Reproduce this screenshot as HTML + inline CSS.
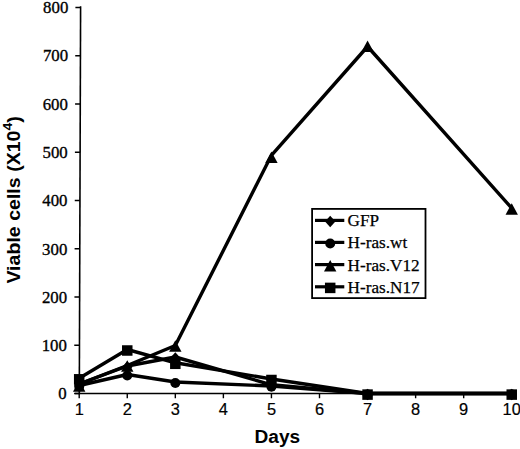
<!DOCTYPE html>
<html><head><meta charset="utf-8"><style>
html,body{margin:0;padding:0;background:#fff;}
svg{display:block;}
.yl{font-family:"Liberation Serif",serif;font-size:17.7px;stroke:#000;stroke-width:0.35px;}
.lg{font-family:"Liberation Serif",serif;font-size:17.2px;stroke:#000;stroke-width:0.25px;}
.xl{font-family:"Liberation Sans",sans-serif;font-size:16.4px;stroke:#000;stroke-width:0.2px;}
.tt{font-family:"Liberation Sans",sans-serif;font-size:18px;font-weight:bold;}
</style></head><body>
<svg width="520" height="449" viewBox="0 0 520 449">
<path d="M80.6 6.2L79.3 394.3" stroke="#000" stroke-width="1.6" fill="none"/>
<path d="M75 393.5H512.24" stroke="#000" stroke-width="1.6" fill="none"/>
<path d="M74.10 393.50H79.30 M74.26 345.25H79.46 M74.42 297.00H79.62 M74.59 248.75H79.79 M74.75 200.50H79.95 M74.91 152.25H80.11 M75.07 104.00H80.27 M75.23 55.75H80.43 M75.40 7.50H80.60 " stroke="#000" stroke-width="1.6" fill="none"/>
<path d="M79.20 393.5V398.3 M127.26 393.5V398.3 M175.32 393.5V398.3 M223.38 393.5V398.3 M271.44 393.5V398.3 M319.50 393.5V398.3 M367.56 393.5V398.3 M415.62 393.5V398.3 M463.68 393.5V398.3 M511.74 393.5V398.3 " stroke="#000" stroke-width="1.4" fill="none"/>
<text transform="translate(66.70 399.40) scale(0.95 1.0)" text-anchor="end" class="yl">0</text>
<text transform="translate(66.90 351.10) scale(0.95 1.0)" text-anchor="end" class="yl">100</text>
<text transform="translate(67.10 302.80) scale(0.95 1.0)" text-anchor="end" class="yl">200</text>
<text transform="translate(67.30 254.50) scale(0.95 1.0)" text-anchor="end" class="yl">300</text>
<text transform="translate(67.50 206.20) scale(0.95 1.0)" text-anchor="end" class="yl">400</text>
<text transform="translate(67.70 157.90) scale(0.95 1.0)" text-anchor="end" class="yl">500</text>
<text transform="translate(67.90 109.60) scale(0.95 1.0)" text-anchor="end" class="yl">600</text>
<text transform="translate(68.10 61.30) scale(0.95 1.0)" text-anchor="end" class="yl">700</text>
<text transform="translate(68.30 13.00) scale(0.95 1.0)" text-anchor="end" class="yl">800</text>
<text x="79.20" y="414.7" text-anchor="middle" class="xl">1</text>
<text x="127.26" y="414.7" text-anchor="middle" class="xl">2</text>
<text x="175.32" y="414.7" text-anchor="middle" class="xl">3</text>
<text x="223.38" y="414.7" text-anchor="middle" class="xl">4</text>
<text x="271.44" y="414.7" text-anchor="middle" class="xl">5</text>
<text x="319.50" y="414.7" text-anchor="middle" class="xl">6</text>
<text x="367.56" y="414.7" text-anchor="middle" class="xl">7</text>
<text x="415.62" y="414.7" text-anchor="middle" class="xl">8</text>
<text x="463.68" y="414.7" text-anchor="middle" class="xl">9</text>
<text x="511.74" y="414.7" text-anchor="middle" class="xl">10</text>
<text x="254.5" y="442.7" textLength="45.6" lengthAdjust="spacingAndGlyphs" class="tt">Days</text>
<text id="yt" transform="translate(19.8 283.6) rotate(-90)" class="tt" textLength="167.5" lengthAdjust="spacingAndGlyphs">Viable cells (X10<tspan dy="-8.2" font-size="13px">4</tspan><tspan dy="8.2">)</tspan></text>
<polyline points="79.20,385.50 127.26,374.50 175.32,382.00 271.44,386.00 367.56,393.50 511.74,393.50" fill="none" stroke="#000" stroke-width="3.4" stroke-linejoin="round"/>
<polyline points="79.20,384.00 127.26,366.00 175.32,357.00 271.44,384.80 367.56,393.50 511.74,393.50" fill="none" stroke="#000" stroke-width="3.4" stroke-linejoin="round"/>
<polyline points="79.20,384.00 127.26,365.50 175.32,345.50 271.44,155.30 367.56,46.50 511.74,208.20" fill="none" stroke="#000" stroke-width="3.4" stroke-linejoin="round"/>
<polyline points="79.20,378.30 127.26,349.50 175.32,362.80 271.44,379.00 367.56,393.50 511.74,393.50" fill="none" stroke="#000" stroke-width="3.4" stroke-linejoin="round"/>
<circle cx="79.20" cy="386.50" r="5"/>
<circle cx="127.26" cy="375.50" r="5"/>
<circle cx="175.32" cy="383.00" r="5"/>
<circle cx="271.44" cy="386.80" r="5"/>
<circle cx="367.56" cy="394.50" r="5"/>
<circle cx="511.74" cy="394.50" r="5"/>
<path d="M79.20 379.20L84.40 385.00L79.20 390.80L74.00 385.00Z"/>
<path d="M127.26 361.20L132.46 367.00L127.26 372.80L122.06 367.00Z"/>
<path d="M175.32 352.20L180.52 358.00L175.32 363.80L170.12 358.00Z"/>
<path d="M271.44 379.70L276.64 385.50L271.44 391.30L266.24 385.50Z"/>
<path d="M367.56 388.70L372.76 394.50L367.56 400.30L362.36 394.50Z"/>
<path d="M511.74 388.70L516.94 394.50L511.74 400.30L506.54 394.50Z"/>
<path d="M79.20 380.30L85.40 391.70L73.00 391.70Z"/>
<path d="M127.26 360.30L133.46 371.70L121.06 371.70Z"/>
<path d="M175.32 340.30L181.52 351.70L169.12 351.70Z"/>
<path d="M271.44 151.60L277.64 163.00L265.24 163.00Z"/>
<path d="M367.56 40.50L373.76 51.90L361.36 51.90Z"/>
<path d="M511.74 203.30L517.94 214.70L505.54 214.70Z"/>
<rect x="73.95" y="374.05" width="10.5" height="10.5"/>
<rect x="122.01" y="345.25" width="10.5" height="10.5"/>
<rect x="170.07" y="358.55" width="10.5" height="10.5"/>
<rect x="266.19" y="374.75" width="10.5" height="10.5"/>
<rect x="362.31" y="389.35" width="10.5" height="10.5"/>
<rect x="506.49" y="389.35" width="10.5" height="10.5"/>
<rect x="312.1" y="208.9" width="113.4" height="89.2" fill="#fff" stroke="#000" stroke-width="1.8"/>
<path d="M315 220.4H344.3" stroke="#000" stroke-width="3.2"/>
<path d="M330.20 215.70L335.40 221.50L330.20 227.30L325.00 221.50Z"/>
<text x="347.6" y="226.30" class="lg">GFP</text>
<path d="M315 242.4H344.3" stroke="#000" stroke-width="3.2"/>
<circle cx="330.20" cy="243.50" r="5"/>
<text x="347.6" y="248.30" class="lg">H-ras.wt</text>
<path d="M315 264.6H344.3" stroke="#000" stroke-width="3.2"/>
<path d="M330.20 260.00L336.40 271.40L324.00 271.40Z"/>
<text x="347.6" y="270.50" class="lg">H-ras.V12</text>
<path d="M315 286.8H344.3" stroke="#000" stroke-width="3.2"/>
<rect x="324.95" y="282.65" width="10.5" height="10.5"/>
<text x="347.6" y="292.70" class="lg">H-ras.N17</text>
</svg>
</body></html>
